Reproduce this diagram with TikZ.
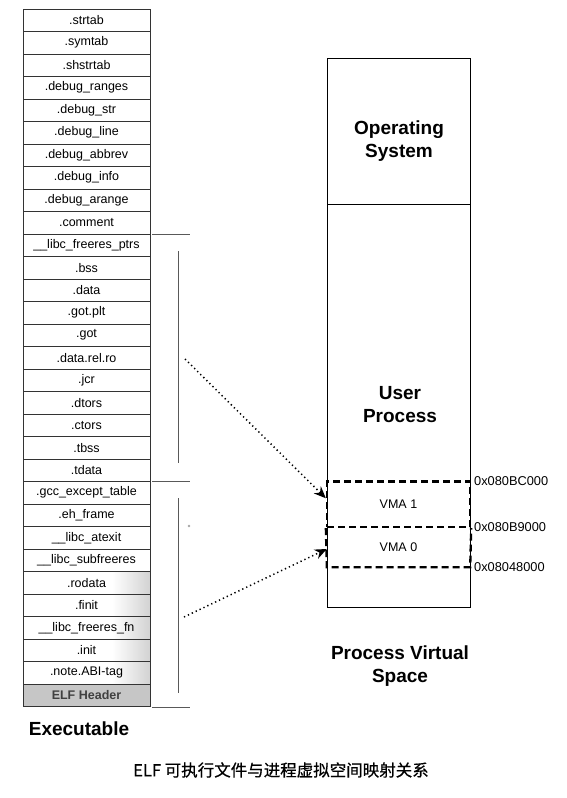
\documentclass[tikz,border=0pt]{standalone}
\usepackage{fontspec}
\setmainfont{Liberation Sans}
\newfontfamily\cjk[FakeBold=0.6]{Noto Sans CJK SC}
\usetikzlibrary{arrows.meta}
\tikzset{
  secbox/.style={draw=black!80, line width=0.6pt, minimum width=127pt, minimum height=22.5pt, inner sep=0pt, font=\fontsize{12.5}{14}\selectfont},
  bigbox/.style={draw=black, line width=0.9pt, minimum width=143pt, inner sep=0pt},
  vmadash/.style={draw=black, line width=2.3pt, dash pattern=on 7pt off 4pt},
  vmabox/.style={vmadash, minimum width=143pt, inner sep=0pt, font=\fontsize{12.5}{14}\selectfont},
  vmatext/.style={minimum width=143pt, inner sep=0pt, font=\fontsize{12.5}{14}\selectfont},
  addr/.style={anchor=west, inner sep=0pt, font=\fontsize{12.8}{14}\selectfont},
  bracket/.style={draw=black!65, line width=0.5pt},
  maparrow/.style={line width=1.5pt, dash pattern=on 1.3pt off 3pt, -{Stealth[length=12pt,width=10pt]}},
  title/.style={font=\fontsize{19}{23}\selectfont\bfseries, align=center}
}
\begin{document}
\begin{tikzpicture}[x=1pt,y=-1pt]
\useasboundingbox (0,0) rectangle (566,798);
% faint stipple at the right of some rows
\shade[left color=white, right color=gray!35] (112,572) rectangle (150,684);
% left column
\foreach \t [count=\i from 0] in {.strtab,.symtab,.shstrtab,.debug\_ranges,.debug\_str,.debug\_line,.debug\_abbrev,.debug\_info,.debug\_arange,.comment,\_\_libc\_freeres\_ptrs,.bss,.data,.got.plt,.got,.data.rel.ro,.jcr,.dtors,.ctors,.tbss,.tdata,.gcc\_except\_table,.eh\_frame,\_\_libc\_atexit,\_\_libc\_subfreeres,.rodata,.finit,\_\_libc\_freeres\_fn,.init,.note.ABI-tag}
  \node[secbox] (r\i) at (86.5, 20.25+22.5*\i) {\t};
\node[secbox, fill=gray!45, text=black!75, font=\fontsize{12.5}{14}\selectfont\bfseries] (r30) at (86.5, 20.25+22.5*30) {ELF Header};
% brackets
\draw[bracket] (152,234) -- (190,234);
\draw[bracket] (178.5,251) -- (178.5,463);
\draw[bracket] (152,481.5) -- (190,481.5);
\draw[bracket] (178.5,498) -- (178.5,693);
\draw[bracket] (152,707) -- (190,707);
\fill[gray!70] (189,526) circle (1.3);
% right column
\node[bigbox, minimum height=146pt] (os) at (398.5,131) {};
\node[bigbox, minimum height=403pt] (up) at (398.5,405.5) {};
\node[title] (ostxt) at (399,141) {Operating\\System};
\node[title] (uptxt) at (400,405) {User\\Process};
\node[vmabox, minimum height=45.5pt] (vma1) at (398.5,504.25) {VMA 1};
\node[vmatext, minimum height=40pt] (vma0) at (398.5,547) {VMA 0};
\draw[vmadash] (vma1.south west) -- (vma0.south west) -- (vma0.south east) -- (vma1.south east);
\node[addr] (a1) at (474,481) {0x080BC000};
\node[addr] (a2) at (474,527) {0x080B9000};
\node[addr] (a3) at (474,567) {0x08048000};
% mapping arrows
\coordinate (s1) at (185,359);
\coordinate (s2) at (184,617);
\draw[maparrow] (s1) -- ([yshift=6pt]vma1.west);
\draw[maparrow] (s2) -- ([yshift=-2pt]vma0.west);
% titles
\node[title] (pvs) at (400,666) {Process Virtual\\Space};
\node[title] (exe) at (79,729) {Executable};
\node[font=\cjk\fontsize{16.5}{19}\selectfont] (cap) at (281,770) {ELF 可执行文件与进程虚拟空间映射关系};
\end{tikzpicture}
\end{document}
